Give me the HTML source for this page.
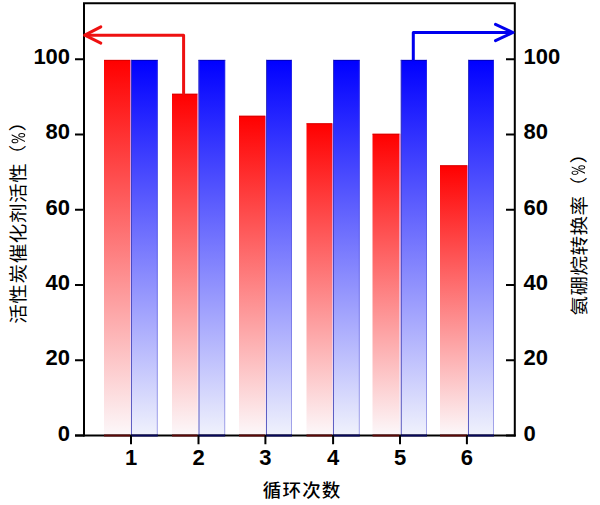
<!DOCTYPE html>
<html><head><meta charset="utf-8"><title>chart</title>
<style>html,body{margin:0;padding:0;background:#fff;}svg{display:block;}.n{font-family:"Liberation Sans",Arial,sans-serif;font-weight:bold;font-size:22px;fill:#000;}</style></head><body>
<svg width="600" height="505" viewBox="0 0 600 505">
<defs><linearGradient id="gr" x1="0" y1="0" x2="0" y2="1"><stop offset="0" stop-color="#ff0000"/><stop offset="1" stop-color="#fcf8fa"/></linearGradient><linearGradient id="gb" x1="0" y1="0" x2="0" y2="1"><stop offset="0" stop-color="#0000ff"/><stop offset="1" stop-color="#f0f2fc"/></linearGradient><linearGradient id="gg" x1="0" y1="0" x2="0" y2="1"><stop offset="0" stop-color="#d874c8"/><stop offset="1" stop-color="#f6f0f6"/></linearGradient></defs>
<rect x="0" y="0" width="600" height="505" fill="#fff"/>
<rect x="104" y="59.9" width="26" height="375.6" fill="url(#gr)"/>
<rect x="131" y="59.9" width="26.8" height="375.6" fill="url(#gb)"/>
<rect x="104" y="59.9" width="26" height="1" fill="#c80000" opacity="0.7"/>
<rect x="131" y="59.9" width="26.8" height="1" fill="#0000a0" opacity="0.7"/>
<rect x="130" y="59.9" width="1" height="375.6" fill="url(#gg)"/>
<rect x="131" y="59.9" width="1" height="375.6" fill="#3c3cb4" opacity="0.8"/>
<rect x="156.8" y="59.9" width="1" height="375.6" fill="#4a4ad0" opacity="0.45"/>
<rect x="172" y="93.75" width="25.5" height="341.75" fill="url(#gr)"/>
<rect x="198.5" y="59.9" width="26.7" height="375.6" fill="url(#gb)"/>
<rect x="172" y="93.75" width="25.5" height="1" fill="#c80000" opacity="0.7"/>
<rect x="198.5" y="59.9" width="26.7" height="1" fill="#0000a0" opacity="0.7"/>
<rect x="197.5" y="93.75" width="1" height="341.75" fill="url(#gg)"/>
<rect x="198.5" y="59.9" width="1" height="375.6" fill="#3c3cb4" opacity="0.8"/>
<rect x="224.2" y="59.9" width="1" height="375.6" fill="#4a4ad0" opacity="0.45"/>
<rect x="239" y="115.75" width="26" height="319.75" fill="url(#gr)"/>
<rect x="266" y="59.9" width="26" height="375.6" fill="url(#gb)"/>
<rect x="239" y="115.75" width="26" height="1" fill="#c80000" opacity="0.7"/>
<rect x="266" y="59.9" width="26" height="1" fill="#0000a0" opacity="0.7"/>
<rect x="265" y="115.75" width="1" height="319.75" fill="url(#gg)"/>
<rect x="266" y="59.9" width="1" height="375.6" fill="#3c3cb4" opacity="0.8"/>
<rect x="291" y="59.9" width="1" height="375.6" fill="#4a4ad0" opacity="0.45"/>
<rect x="306.5" y="123.25" width="25.5" height="312.25" fill="url(#gr)"/>
<rect x="333" y="59.9" width="26.8" height="375.6" fill="url(#gb)"/>
<rect x="306.5" y="123.25" width="25.5" height="1" fill="#c80000" opacity="0.7"/>
<rect x="333" y="59.9" width="26.8" height="1" fill="#0000a0" opacity="0.7"/>
<rect x="332" y="123.25" width="1" height="312.25" fill="url(#gg)"/>
<rect x="333" y="59.9" width="1" height="375.6" fill="#3c3cb4" opacity="0.8"/>
<rect x="358.8" y="59.9" width="1" height="375.6" fill="#4a4ad0" opacity="0.45"/>
<rect x="372.5" y="133.75" width="27" height="301.75" fill="url(#gr)"/>
<rect x="400.8" y="59.9" width="26.2" height="375.6" fill="url(#gb)"/>
<rect x="372.5" y="133.75" width="27" height="1" fill="#c80000" opacity="0.7"/>
<rect x="400.8" y="59.9" width="26.2" height="1" fill="#0000a0" opacity="0.7"/>
<rect x="399.5" y="133.75" width="1.3" height="301.75" fill="url(#gg)"/>
<rect x="400.8" y="59.9" width="1" height="375.6" fill="#3c3cb4" opacity="0.8"/>
<rect x="426" y="59.9" width="1" height="375.6" fill="#4a4ad0" opacity="0.45"/>
<rect x="440" y="165.25" width="27" height="270.25" fill="url(#gr)"/>
<rect x="468" y="59.9" width="26" height="375.6" fill="url(#gb)"/>
<rect x="440" y="165.25" width="27" height="1" fill="#c80000" opacity="0.7"/>
<rect x="468" y="59.9" width="26" height="1" fill="#0000a0" opacity="0.7"/>
<rect x="467" y="165.25" width="1" height="270.25" fill="url(#gg)"/>
<rect x="468" y="59.9" width="1" height="375.6" fill="#3c3cb4" opacity="0.8"/>
<rect x="493" y="59.9" width="1" height="375.6" fill="#4a4ad0" opacity="0.45"/>
<g stroke="#000" stroke-width="2" fill="none" stroke-linecap="square">
<path d="M84 3.2 H514.8 V435.5 M84 3.2 V435.5"/>
</g>
<path d="M75 435.5 H515.8" stroke="#000" stroke-width="2"/>
<path d="M104 435.5 H130" stroke="#5a0808" stroke-width="2"/>
<path d="M131 435.5 H157.8" stroke="#08085a" stroke-width="2"/>
<path d="M172 435.5 H197.5" stroke="#5a0808" stroke-width="2"/>
<path d="M198.5 435.5 H225.2" stroke="#08085a" stroke-width="2"/>
<path d="M239 435.5 H265" stroke="#5a0808" stroke-width="2"/>
<path d="M266 435.5 H292" stroke="#08085a" stroke-width="2"/>
<path d="M306.5 435.5 H332" stroke="#5a0808" stroke-width="2"/>
<path d="M333 435.5 H359.8" stroke="#08085a" stroke-width="2"/>
<path d="M372.5 435.5 H399.5" stroke="#5a0808" stroke-width="2"/>
<path d="M400.8 435.5 H427" stroke="#08085a" stroke-width="2"/>
<path d="M440 435.5 H467" stroke="#5a0808" stroke-width="2"/>
<path d="M468 435.5 H494" stroke="#08085a" stroke-width="2"/>
<path d="M75 435.5 H84 M506 435.5 H514.8 M75 360.24 H84 M506 360.24 H514.8 M75 284.98 H84 M506 284.98 H514.8 M75 209.72 H84 M506 209.72 H514.8 M75 134.46 H84 M506 134.46 H514.8 M75 59.2 H84 M506 59.2 H514.8 M131 435.5 V444.3 M198.5 435.5 V444.3 M265.4 435.5 V444.3 M333.1 435.5 V444.3 M400 435.5 V444.3 M466.9 435.5 V444.3" stroke="#000" stroke-width="2"/>
<g fill="none" stroke-width="3" stroke-linecap="round" stroke-linejoin="round">
<path stroke="#ee1111" d="M183.6 93.6 V35.2 H85"/>
<path stroke="#ee1111" d="M100.8 26.8 L84.8 35.2 L100.8 43.2"/>
<path stroke="#0000ee" d="M413.3 60 V32.4 H512"/>
<path stroke="#0000ee" d="M495.5 24.4 L513 32.5 L495.5 40.6"/>
</g>
<text class="n" x="70.1" y="440.5" text-anchor="end">0</text>
<text class="n" x="523.6" y="440.5">0</text>
<text class="n" x="70.1" y="365.24" text-anchor="end">20</text>
<text class="n" x="523.6" y="365.24">20</text>
<text class="n" x="70.1" y="289.98" text-anchor="end">40</text>
<text class="n" x="523.6" y="289.98">40</text>
<text class="n" x="70.1" y="214.72" text-anchor="end">60</text>
<text class="n" x="523.6" y="214.72">60</text>
<text class="n" x="70.1" y="139.46" text-anchor="end">80</text>
<text class="n" x="523.6" y="139.46">80</text>
<text class="n" x="70.1" y="64.2" text-anchor="end">100</text>
<text class="n" x="523.6" y="64.2">100</text>
<text class="n" x="131" y="465.4" text-anchor="middle">1</text>
<text class="n" x="198.5" y="465.4" text-anchor="middle">2</text>
<text class="n" x="265.4" y="465.4" text-anchor="middle">3</text>
<text class="n" x="333.1" y="465.4" text-anchor="middle">4</text>
<text class="n" x="400" y="465.4" text-anchor="middle">5</text>
<text class="n" x="466.9" y="465.4" text-anchor="middle">6</text>
<text transform='translate(262.74 497.45) scale(0.95 0.92)' style='font-family:"Liberation Sans","Noto Sans CJK SC","WenQuanYi Zen Hei",sans-serif;font-size:19.5px;font-weight:500;letter-spacing:1.26px;'>循环次数</text>
<text transform='translate(24.9 323.8) rotate(-90) scale(1 0.92)' style='font-family:"Liberation Sans","Noto Sans CJK SC","WenQuanYi Zen Hei",sans-serif;font-size:19.5px;font-weight:400;letter-spacing:0.66px;'>活性炭催化剂活性</text>
<text transform='translate(24 164.25) rotate(-90) scale(1 0.9)' style='font-family:"Liberation Sans","Noto Sans CJK SC","WenQuanYi Zen Hei",sans-serif;font-size:19.5px;font-weight:400;'>（</text>
<text transform='translate(24.9 143.7) rotate(-90) scale(0.8 0.97)' style='font-family:"WenQuanYi Zen Hei","Noto Sans CJK SC",sans-serif;font-size:20px;font-weight:400;'>%</text>
<text transform='translate(24 131.4) rotate(-90) scale(1 0.9)' style='font-family:"Liberation Sans","Noto Sans CJK SC","WenQuanYi Zen Hei",sans-serif;font-size:19.5px;font-weight:400;'>）</text>
<text transform='translate(585.6 315.4) rotate(-90) scale(1 0.92)' style='font-family:"Liberation Sans","Noto Sans CJK SC","WenQuanYi Zen Hei",sans-serif;font-size:19.5px;font-weight:400;letter-spacing:0.52px;'>氨硼烷转换率</text>
<text transform='translate(584.5 196.15) rotate(-90) scale(1 0.9)' style='font-family:"Liberation Sans","Noto Sans CJK SC","WenQuanYi Zen Hei",sans-serif;font-size:19.5px;font-weight:400;'>（</text>
<text transform='translate(584.9 175.2) rotate(-90) scale(0.74 0.97)' style='font-family:"WenQuanYi Zen Hei","Noto Sans CJK SC",sans-serif;font-size:20px;font-weight:400;'>%</text>
<text transform='translate(584.5 163.6) rotate(-90) scale(1 0.9)' style='font-family:"Liberation Sans","Noto Sans CJK SC","WenQuanYi Zen Hei",sans-serif;font-size:19.5px;font-weight:400;'>）</text>
</svg></body></html>
